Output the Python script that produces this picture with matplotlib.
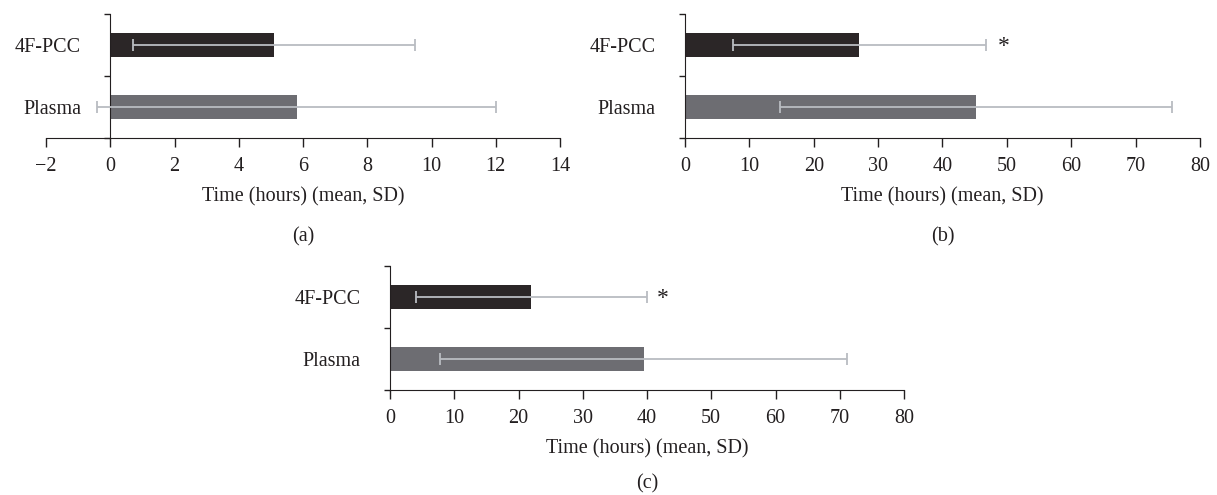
import matplotlib
matplotlib.use("Agg")
import matplotlib.pyplot as plt

plt.rcParams['font.family'] = ['Liberation Serif', 'DejaVu Serif']

groups = ["Plasma", "4F-PCC"]

# panel (a)
mean_a = [5.8, 5.1]
sd_a = [6.2, 4.4]
# panel (b)
mean_b = [45.2, 27.1]
sd_b = [30.5, 19.6]
# panel (c)
mean_c = [39.5, 22.0]
sd_c = [31.7, 18.0]

star_b = 49.5
star_c = 42.5

bar_colors = ["#6d6d72", "#2b2627"]
err_color = "#b9bcc1"
text_color = "#231f20"

xlabel = "Time (hours) (mean, SD)"
fs = 14.5


def draw(ax, means, sds, xlim, xticks, panel, panel_y, star=None):
    pos = [0.5, 1.5]
    ax.barh(pos, means, height=0.4, color=bar_colors, zorder=2)
    ax.errorbar(means, pos, xerr=sds, fmt="none", ecolor=err_color,
                elinewidth=1.3, capsize=4, capthick=1.3, zorder=3)
    ax.set_xlim(*xlim)
    ax.set_ylim(0, 2)
    ax.set_xticks(xticks)
    ax.set_xticklabels([str(t).replace("-", "\u2212") for t in xticks])
    ax.set_yticks([0, 1, 2])
    ax.set_yticklabels([])
    ax.set_yticks(pos, minor=True)
    ax.set_yticklabels(groups, minor=True)
    ax.tick_params(axis="y", which="minor", length=0, pad=21, labelsize=fs,
                   colors=text_color)
    ax.tick_params(axis="y", which="major", length=4.5, width=1, color=text_color)
    ax.tick_params(axis="x", length=6.5, width=1, labelsize=fs, colors=text_color,
                   pad=7)
    for s in ["top", "right"]:
        ax.spines[s].set_visible(False)
    ax.spines["left"].set_position(("data", 0))
    ax.spines["left"].set_color(text_color)
    ax.spines["bottom"].set_color(text_color)
    ax.set_xlabel(xlabel, fontsize=fs, color=text_color, labelpad=8)
    ax.text(0.5, panel_y, panel, transform=ax.transAxes, ha="center",
            va="center", fontsize=fs, color=text_color)
    if star is not None:
        ax.text(star, 1.47, "*", ha="center", va="center", fontsize=17,
                color=text_color)


fig = plt.figure(figsize=(12.17, 4.95), dpi=100)

ax_a = fig.add_axes([46 / 1217, 1 - 138 / 495, 514 / 1217, 124 / 495])
draw(ax_a, mean_a, sd_a, (-2, 14), list(range(-2, 15, 2)), "(a)", -0.8)

ax_b = fig.add_axes([685 / 1217, 1 - 138 / 495, 515 / 1217, 124 / 495])
draw(ax_b, mean_b, sd_b, (0, 80), list(range(0, 81, 10)), "(b)", -0.8, star_b)

ax_c = fig.add_axes([390 / 1217, 1 - 390 / 495, 514 / 1217, 124 / 495])
draw(ax_c, mean_c, sd_c, (0, 80), list(range(0, 81, 10)), "(c)", -0.755, star_c)

fig.savefig("out.png", dpi=100)
